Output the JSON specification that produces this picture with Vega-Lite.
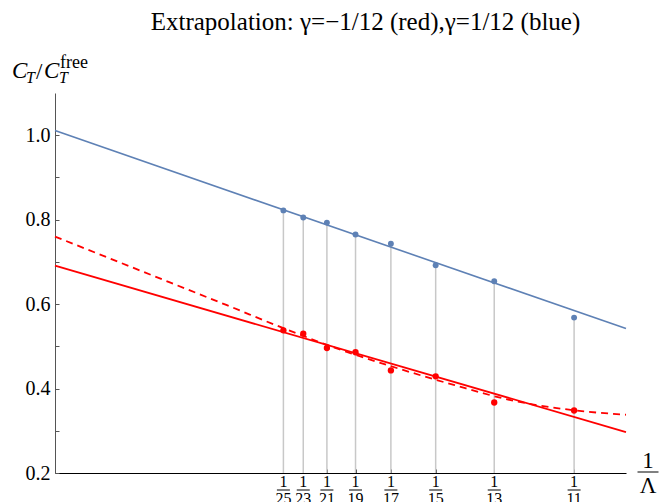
{
  "$schema": "https://vega.github.io/schema/vega-lite/v6.json",
  "width": 571,
  "height": 380,
  "autosize": "none",
  "padding": {"left": 55, "top": 93, "right": 36, "bottom": 29},
  "background": "white",
  "config": {"view": {"stroke": null}, "font": "Liberation Serif"},
  "title": {
    "text": "Extrapolation: γ=−1/12 (red),γ=1/12 (blue)",
    "font": "Liberation Serif",
    "fontSize": 25,
    "fontWeight": "normal",
    "color": "black",
    "anchor": "middle",
    "frame": "group",
    "dx": 25,
    "offset": 19
  },
  "datasets": {
    "pts": [
      {"n": 25, "x": 0.04, "blue": 0.822, "red": 0.538},
      {"n": 23, "x": 0.043478, "blue": 0.805, "red": 0.530},
      {"n": 21, "x": 0.047619, "blue": 0.793, "red": 0.496},
      {"n": 19, "x": 0.052632, "blue": 0.765, "red": 0.486},
      {"n": 17, "x": 0.058824, "blue": 0.743, "red": 0.443},
      {"n": 15, "x": 0.066667, "blue": 0.692, "red": 0.429},
      {"n": 13, "x": 0.076923, "blue": 0.654, "red": 0.367},
      {"n": 11, "x": 0.090909, "blue": 0.568, "red": 0.348}
    ],
    "lines": [
      {"series": "blueFit", "x": 0, "y": 1.011},
      {"series": "blueFit", "x": 0.1, "y": 0.542},
      {"series": "redFit", "x": 0, "y": 0.691},
      {"series": "redFit", "x": 0.1, "y": 0.297},
      {"series": "redDash", "x": 0, "y": 0.760},
      {"series": "redDash", "x": 0.01, "y": 0.706},
      {"series": "redDash", "x": 0.02, "y": 0.652},
      {"series": "redDash", "x": 0.03, "y": 0.598},
      {"series": "redDash", "x": 0.04, "y": 0.543},
      {"series": "redDash", "x": 0.05, "y": 0.492},
      {"series": "redDash", "x": 0.06, "y": 0.448},
      {"series": "redDash", "x": 0.07, "y": 0.408},
      {"series": "redDash", "x": 0.08, "y": 0.372},
      {"series": "redDash", "x": 0.09, "y": 0.350},
      {"series": "redDash", "x": 0.1, "y": 0.338}
    ],
    "one": [{"k": 1}]
  },
  "layer": [
    {
      "data": {"name": "pts"},
      "mark": {"type": "rule", "color": "#c8c8c8", "strokeWidth": 1.5},
      "encoding": {
        "x": {
          "field": "x", "type": "quantitative",
          "scale": {"domain": [0, 0.1], "nice": false, "zero": false},
          "axis": {
            "values": [0.04, 0.043478, 0.047619, 0.052632, 0.058824, 0.066667, 0.076923, 0.090909],
            "labels": false, "title": null, "grid": false,
            "domainColor": "black", "domainWidth": 1,
            "tickColor": "#333", "tickSize": -4, "tickWidth": 1
          }
        },
        "y": {
          "field": "blue", "type": "quantitative",
          "scale": {"domain": [0.2, 1.1], "nice": false, "zero": false},
          "axis": {
            "values": [0.2, 0.25, 0.3, 0.35, 0.4, 0.45, 0.5, 0.55, 0.6, 0.65, 0.7, 0.75, 0.8, 0.85, 0.9, 0.95, 1.0, 1.05],
            "labelExpr": "round(datum.value*100) % 20 == 0 ? format(datum.value, '.1f') : ''",
            "labelFont": "Liberation Serif", "labelFontSize": 20, "labelColor": "black",
            "labelPadding": 9, "title": null, "grid": false,
            "domainColor": "#555", "domainWidth": 1,
            "tickColor": "#555", "tickSize": -4, "tickWidth": 1
          }
        },
        "y2": {"datum": 0.2}
      }
    },
    {
      "data": {"name": "lines"},
      "transform": [{"filter": "datum.series == 'blueFit'"}],
      "mark": {"type": "line", "color": "#5E81B5", "strokeWidth": 1.6},
      "encoding": {
        "x": {"field": "x", "type": "quantitative", "scale": {"domain": [0, 0.1], "nice": false, "zero": false}},
        "y": {"field": "y", "type": "quantitative", "scale": {"domain": [0.2, 1.1], "nice": false, "zero": false}}
      }
    },
    {
      "data": {"name": "lines"},
      "transform": [{"filter": "datum.series == 'redFit'"}],
      "mark": {"type": "line", "color": "#FF0000", "strokeWidth": 1.8},
      "encoding": {
        "x": {"field": "x", "type": "quantitative"},
        "y": {"field": "y", "type": "quantitative"}
      }
    },
    {
      "data": {"name": "lines"},
      "transform": [{"filter": "datum.series == 'redDash'"}],
      "mark": {"type": "line", "color": "#FF0000", "strokeWidth": 1.8, "strokeDash": [7, 5], "interpolate": "monotone"},
      "encoding": {
        "x": {"field": "x", "type": "quantitative"},
        "y": {"field": "y", "type": "quantitative"}
      }
    },
    {
      "data": {"name": "pts"},
      "mark": {"type": "point", "filled": true, "size": 35, "color": "#5E81B5", "opacity": 1},
      "encoding": {
        "x": {"field": "x", "type": "quantitative"},
        "y": {"field": "blue", "type": "quantitative"}
      }
    },
    {
      "data": {"name": "pts"},
      "mark": {"type": "point", "filled": true, "size": 40, "color": "#FF0000", "opacity": 1},
      "encoding": {
        "x": {"field": "x", "type": "quantitative"},
        "y": {"field": "red", "type": "quantitative"}
      }
    },
    {
      "data": {"name": "pts"},
      "mark": {"type": "text", "text": "1", "font": "Liberation Serif", "fontSize": 16, "color": "black", "align": "center", "baseline": "alphabetic", "dy": 14},
      "encoding": {
        "x": {"field": "x", "type": "quantitative"},
        "y": {"datum": 0.2, "type": "quantitative"}
      }
    },
    {
      "data": {"name": "pts"},
      "mark": {"type": "tick", "orient": "horizontal", "size": 13, "thickness": 1, "color": "black", "opacity": 1, "yOffset": 17},
      "encoding": {
        "x": {"field": "x", "type": "quantitative"},
        "y": {"datum": 0.2, "type": "quantitative"}
      }
    },
    {
      "data": {"name": "pts"},
      "mark": {"type": "text", "font": "Liberation Serif", "fontSize": 16, "color": "black", "align": "center", "baseline": "alphabetic", "dy": 31},
      "encoding": {
        "x": {"field": "x", "type": "quantitative"},
        "y": {"datum": 0.2, "type": "quantitative"},
        "text": {"field": "n", "type": "nominal"}
      }
    },
    {
      "data": {"name": "one"},
      "mark": {"type": "text", "text": "1", "font": "Liberation Serif", "fontSize": 23, "color": "black", "align": "center", "baseline": "alphabetic", "dx": 22, "dy": -5},
      "encoding": {
        "x": {"datum": 0.1, "type": "quantitative"},
        "y": {"datum": 0.2, "type": "quantitative"}
      }
    },
    {
      "data": {"name": "one"},
      "mark": {"type": "tick", "orient": "horizontal", "size": 21, "thickness": 1, "color": "black", "opacity": 1, "xOffset": 22, "yOffset": -1},
      "encoding": {
        "x": {"datum": 0.1, "type": "quantitative"},
        "y": {"datum": 0.2, "type": "quantitative"}
      }
    },
    {
      "data": {"name": "one"},
      "mark": {"type": "text", "text": "Λ", "font": "Liberation Serif", "fontSize": 23, "color": "black", "align": "center", "baseline": "alphabetic", "dx": 22, "dy": 20},
      "encoding": {
        "x": {"datum": 0.1, "type": "quantitative"},
        "y": {"datum": 0.2, "type": "quantitative"}
      }
    },
    {
      "data": {"name": "one"},
      "mark": {"type": "text", "text": "C", "font": "Liberation Serif", "fontSize": 23, "fontStyle": "italic", "color": "black", "align": "left", "baseline": "alphabetic", "dx": -43, "dy": -15},
      "encoding": {
        "x": {"datum": 0, "type": "quantitative"},
        "y": {"datum": 1.1, "type": "quantitative"}
      }
    },
    {
      "data": {"name": "one"},
      "mark": {"type": "text", "text": "T", "font": "Liberation Serif", "fontSize": 16, "fontStyle": "italic", "color": "black", "align": "left", "baseline": "alphabetic", "dx": -29, "dy": -10},
      "encoding": {
        "x": {"datum": 0, "type": "quantitative"},
        "y": {"datum": 1.1, "type": "quantitative"}
      }
    },
    {
      "data": {"name": "one"},
      "mark": {"type": "text", "text": "/", "font": "Liberation Serif", "fontSize": 23, "color": "black", "align": "left", "baseline": "alphabetic", "dx": -19, "dy": -14},
      "encoding": {
        "x": {"datum": 0, "type": "quantitative"},
        "y": {"datum": 1.1, "type": "quantitative"}
      }
    },
    {
      "data": {"name": "one"},
      "mark": {"type": "text", "text": "C", "font": "Liberation Serif", "fontSize": 23, "fontStyle": "italic", "color": "black", "align": "left", "baseline": "alphabetic", "dx": -11, "dy": -15},
      "encoding": {
        "x": {"datum": 0, "type": "quantitative"},
        "y": {"datum": 1.1, "type": "quantitative"}
      }
    },
    {
      "data": {"name": "one"},
      "mark": {"type": "text", "text": "T", "font": "Liberation Serif", "fontSize": 16, "fontStyle": "italic", "color": "black", "align": "left", "baseline": "alphabetic", "dx": 4, "dy": -10},
      "encoding": {
        "x": {"datum": 0, "type": "quantitative"},
        "y": {"datum": 1.1, "type": "quantitative"}
      }
    },
    {
      "data": {"name": "one"},
      "mark": {"type": "text", "text": "free", "font": "Liberation Serif", "fontSize": 18, "color": "black", "align": "left", "baseline": "alphabetic", "dx": 5, "dy": -25},
      "encoding": {
        "x": {"datum": 0, "type": "quantitative"},
        "y": {"datum": 1.1, "type": "quantitative"}
      }
    }
  ]
}
